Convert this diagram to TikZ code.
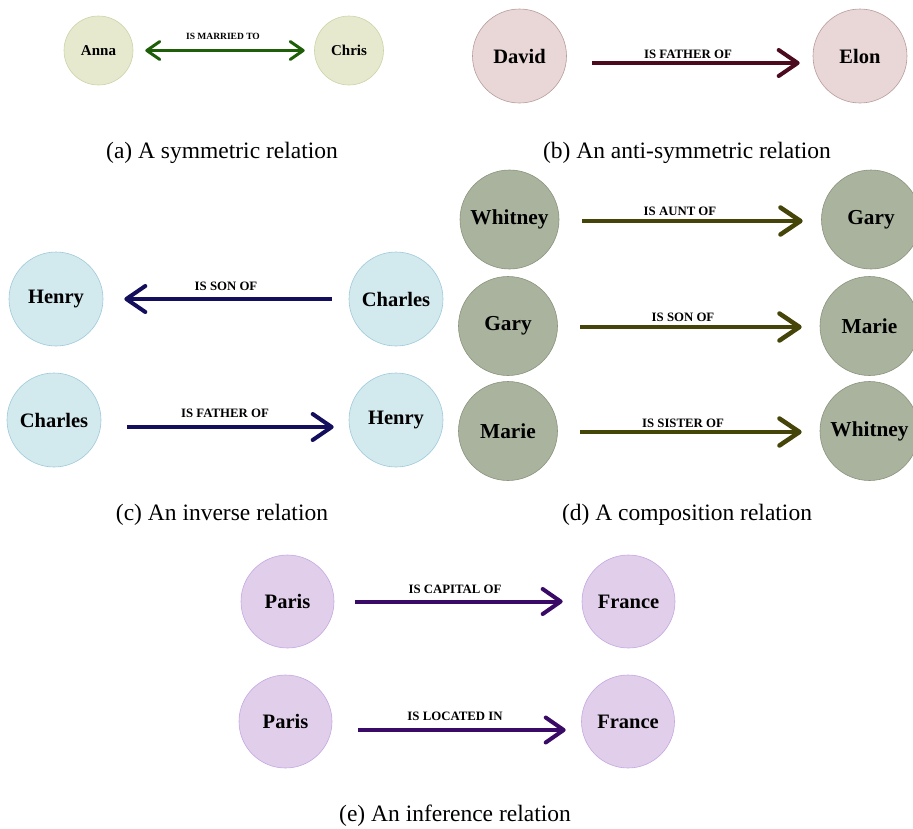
\documentclass[tikz,border=0pt]{standalone}
\usepackage{fontspec}
\setmainfont{Liberation Serif}
\usetikzlibrary{arrows.meta}

\definecolor{fillA}{HTML}{E6E9CE}
\definecolor{lineA}{HTML}{CBD4A6}
\definecolor{arrowA}{HTML}{1E5E08}
\definecolor{fillB}{HTML}{E9D6D6}
\definecolor{lineB}{HTML}{B89C9C}
\definecolor{arrowB}{HTML}{4B0A1E}
\definecolor{fillC}{HTML}{D2E9EE}
\definecolor{lineC}{HTML}{9FC9DA}
\definecolor{arrowC}{HTML}{130F5C}
\definecolor{fillD}{HTML}{A9B39D}
\definecolor{lineD}{HTML}{8B947D}
\definecolor{arrowD}{HTML}{454409}
\definecolor{fillE}{HTML}{E1CEEA}
\definecolor{lineE}{HTML}{C4A8E2}
\definecolor{arrowE}{HTML}{3A0B66}

\tikzset{
  ent/.style={circle, inner sep=0pt, line width=0.6pt},
  entA/.style={ent, minimum size=69pt, fill=fillA, draw=lineA, font=\fontsize{15}{15}\selectfont\bfseries},
  entB/.style={ent, minimum size=94pt, fill=fillB, draw=lineB, font=\fontsize{20.5}{20.5}\selectfont\bfseries},
  entC/.style={ent, minimum size=94pt, fill=fillC, draw=lineC, font=\fontsize{20.5}{20.5}\selectfont\bfseries},
  entD/.style={ent, minimum size=99pt, fill=fillD, draw=lineD, font=\fontsize{21.3}{21.3}\selectfont\bfseries},
  entE/.style={ent, minimum size=93pt, fill=fillE, draw=lineE, font=\fontsize{20.5}{20.5}\selectfont\bfseries},
  rel/.style={inner sep=0pt, font=\fontsize{12.8}{13}\selectfont\bfseries},
  relsmall/.style={inner sep=0pt, font=\fontsize{9.5}{10}\selectfont\bfseries},
  caption/.style={inner sep=0pt, anchor=base, font=\fontsize{23.5}{24}\selectfont},
  arrA/.style={draw=arrowA, line width=3pt,
    {Straight Barb[length=13pt,width=18pt,line cap=round,line join=round]}-{Straight Barb[length=13pt,width=18pt,line cap=round,line join=round]}},
  arrB/.style={draw=arrowB, line width=4pt,
    -{Straight Barb[length=19pt,width=26pt,line cap=round,line join=round]}},
  arrC/.style={draw=arrowC, line width=4pt,
    -{Straight Barb[length=19pt,width=26pt,line cap=round,line join=round]}},
  arrD/.style={draw=arrowD, line width=4.5pt,
    -{Straight Barb[length=20pt,width=27pt,line cap=round,line join=round]}},
  arrE/.style={draw=arrowE, line width=4pt,
    -{Straight Barb[length=18pt,width=25pt,line cap=round,line join=round]}},
}

\begin{document}
\begin{tikzpicture}[x=1pt,y=-1pt]
\useasboundingbox (0,0) rectangle (913,828);
\clip (0,0) rectangle (913,828);

% (a) symmetric relation
\node[entA] (anna)  at (98.5,50.5) {Anna};
\node[entA] (chris) at (349,50.5)  {Chris};
\draw[arrA, shorten <=12pt, shorten >=9.5pt] (anna.east) -- (chris.west);
\node[relsmall] (lblA) at (223,36) {IS MARRIED TO};
\node[caption] (capA) at (222,158.5) {(a) A symmetric relation};

% (b) anti-symmetric relation
\node[entB] (david) at (519.5,56) {David};
\node[entB] (elon)  at (860,56)   {Elon};
\draw[arrB, shorten <=25.5pt, shorten >=13pt] ([yshift=-7pt]david.east) -- ([yshift=-7pt]elon.west);
\node[rel] (lblB) at (688,54) {IS FATHER OF};
\node[caption] (capB) at (687,158.5) {(b) An anti-symmetric relation};

% (c) inverse relation
\node[entC] (henryA)   at (56,299)  {Henry};
\node[entC] (charlesA) at (396,299) {Charles};
\draw[arrC, shorten <=17pt, shorten >=21pt] (charlesA.west) -- (henryA.east);
\node[rel] (lblC1) at (226,286) {IS SON OF};
\node[entC] (charlesB) at (54,420)  {Charles};
\node[entC] (henryB)   at (396,420) {Henry};
\draw[arrC, shorten <=26pt, shorten >=15pt] ([yshift=-7pt]charlesB.east) -- ([yshift=-7pt]henryB.west);
\node[rel] (lblC2) at (225,413) {IS FATHER OF};
\node[caption] (capC) at (222,520) {(c) An inverse relation};

% (d) composition relation
\node[entD] (whitneyA) at (509.5,219.5) {Whitney};
\node[entD] (garyA)    at (871,219.5)   {Gary};
\draw[arrD, shorten <=23pt, shorten >=18.5pt] ([yshift=-1.5pt]whitneyA.east) -- ([yshift=-1.5pt]garyA.west);
\node[rel] (lblD1) at (680,211) {IS AUNT OF};
\node[entD] (garyB)  at (508,326)   {Gary};
\node[entD] (marieA) at (869.5,326) {Marie};
\draw[arrD, shorten <=22.5pt, shorten >=18pt] ([yshift=-1pt]garyB.east) -- ([yshift=-1pt]marieA.west);
\node[rel] (lblD2) at (683,317) {IS SON OF};
\node[entD] (marieB)   at (508,431)   {Marie};
\node[entD] (whitneyB) at (869.5,431) {Whitney};
\draw[arrD, shorten <=22.5pt, shorten >=18pt] ([yshift=-1pt]marieB.east) -- ([yshift=-1pt]whitneyB.west);
\node[rel] (lblD3) at (683,423) {IS SISTER OF};
\node[caption] (capD) at (687,520) {(d) A composition relation};

% (e) inference relation
\node[entE] (parisA)  at (287.5,601.5) {Paris};
\node[entE] (franceA) at (628.5,601.5) {France};
\draw[arrE, shorten <=21pt, shorten >=19pt] (parisA.east) -- (franceA.west);
\node[rel] (lblE1) at (455,589) {IS CAPITAL OF};
\node[entE] (parisB)  at (285.5,721.5) {Paris};
\node[entE] (franceB) at (628,721.5)   {France};
\draw[arrE, shorten <=26pt, shorten >=15.5pt] ([yshift=-8.5pt]parisB.east) -- ([yshift=-8.5pt]franceB.west);
\node[rel] (lblE2) at (455,716) {IS LOCATED IN};
\node[caption] (capE) at (455,821) {(e) An inference relation};
\end{tikzpicture}
\end{document}
